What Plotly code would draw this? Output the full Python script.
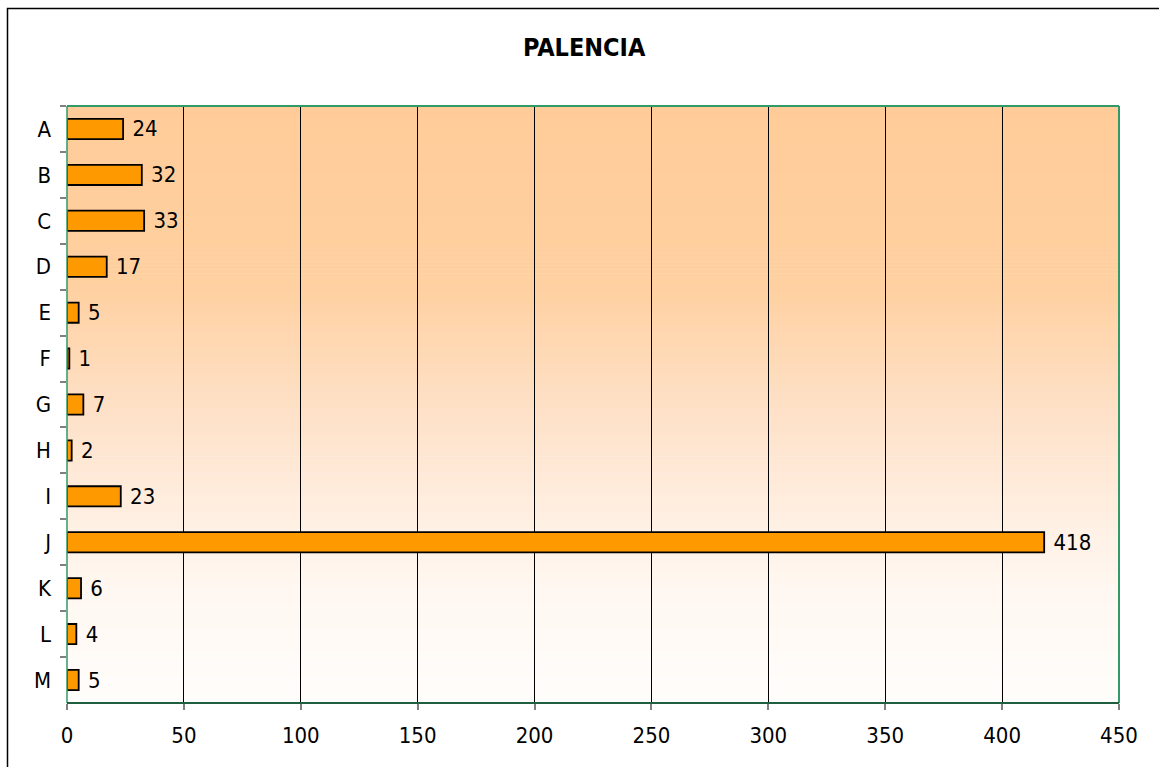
import plotly.graph_objects as go

categories = ["A", "B", "C", "D", "E", "F", "G", "H", "I", "J", "K", "L", "M"]
values = [24, 32, 33, 17, 5, 1, 7, 2, 23, 418, 6, 4, 5]
x_ticks = [0, 50, 100, 150, 200, 250, 300, 350, 400, 450]
title_text = "PALENCIA"

W, H = 1159, 767
L, R, T, B = 67, 1119, 106, 703
FONT = "DejaVu Sans Condensed, Liberation Sans, sans-serif"

fig = go.Figure()
fig.add_trace(go.Bar(
    y=categories, x=values, orientation="h",
    marker=dict(color="#FF9900", line=dict(color="#000000", width=1.8)),
    text=values, texttemplate=" %{x}", textposition="outside",
    constraintext="none", cliponaxis=False,
    textfont=dict(family=FONT, size=22, color="#000000"),
    width=0.44,
))

def px(x):
    return (x - L) / (R - L)

def py(y):
    return (B - y) / (B - T)

# gradient background (peach top -> near white bottom)
stops = [(0.0, (255, 204, 153)), (0.3, (255, 208, 160)), (0.5, (254, 224, 198)),
         (0.7, (255, 240, 228)), (0.82, (255, 248, 242)), (1.0, (255, 253, 251))]

def col(t):
    for (t0, c0), (t1, c1) in zip(stops[:-1], stops[1:]):
        if t0 <= t <= t1:
            f = (t - t0) / (t1 - t0)
            return "rgb(%d,%d,%d)" % tuple(round(a + (b - a) * f) for a, b in zip(c0, c1))
    return "rgb(%d,%d,%d)" % stops[-1][1]

shapes = []
N = 150
for i in range(N):
    t = (i + 0.5) / N
    shapes.append(dict(type="rect", xref="paper", yref="paper", layer="below",
                       x0=0, x1=1, y0=1 - (i + 1) / N - 0.001, y1=1 - i / N,
                       fillcolor=col(t), line=dict(width=0)))

# plot border
shapes.append(dict(type="line", xref="paper", yref="paper", x0=0, x1=1, y0=1, y1=1,
                   line=dict(color="#339966", width=2), layer="above"))
shapes.append(dict(type="line", xref="paper", yref="paper", x0=1, x1=1, y0=0, y1=1,
                   line=dict(color="#339966", width=2), layer="above"))
shapes.append(dict(type="line", xref="paper", yref="paper", x0=0, x1=0, y0=0, y1=1,
                   line=dict(color="#339966", width=1.5), layer="above"))
shapes.append(dict(type="line", xref="paper", yref="paper", x0=0, x1=1, y0=0, y1=0,
                   line=dict(color="#1F5F3F", width=2), layer="above"))
# outer chart border
shapes.append(dict(type="rect", xref="paper", yref="paper",
                   x0=px(7.5), x1=px(1165), y0=py(775), y1=py(8.5),
                   line=dict(color="#000000", width=1.5), layer="above"))

fig.update_layout(
    width=W, height=H,
    margin=dict(l=L, r=W - R, t=T, b=H - B),
    paper_bgcolor="#FFFFFF", plot_bgcolor="rgba(0,0,0,0)",
    showlegend=False,
    bargap=0.56,
    shapes=shapes,
    font=dict(family=FONT, size=22, color="#000000"),
    annotations=[dict(text="<b>" + title_text + "</b>", xref="paper", yref="paper",
                      x=px(584), y=py(47), xanchor="center", yanchor="middle",
                      showarrow=False, font=dict(family=FONT, size=25, color="#000000"))],
    xaxis=dict(range=[0, 450], tickvals=x_ticks, showgrid=True, gridcolor="#000000",
               gridwidth=1, zeroline=False, showline=False, ticks="outside",
               ticklen=6, tickcolor="#808080", tickwidth=1.5,
               tickfont=dict(family=FONT, size=22), ticklabelstandoff=7),
    yaxis=dict(categoryorder="array", categoryarray=categories, autorange="reversed",
               showgrid=False, zeroline=False, showline=False, ticks="outside",
               tickson="boundaries", ticklen=6, tickcolor="#808080", tickwidth=1.5,
               tickfont=dict(family=FONT, size=22), ticklabelstandoff=15),
)

fig.write_html("out.html")
